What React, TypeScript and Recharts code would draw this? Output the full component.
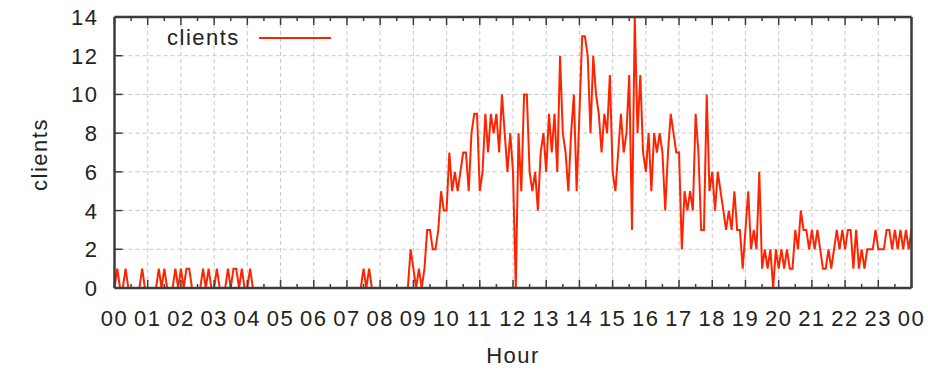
import { LineChart, Line, XAxis, YAxis, CartesianGrid, Legend } from "recharts";

const FONT = "'Liberation Sans', Arial, Helvetica, sans-serif";
const LINE_RED = "#ff2400";
const FRAME = "#3c3c3c";

const hourLabels = [
  "00", "01", "02", "03", "04", "05", "06", "07", "08", "09", "10", "11",
  "12", "13", "14", "15", "16", "17", "18", "19", "20", "21", "22", "23", "00",
];
const yTicks = [0, 2, 4, 6, 8, 10, 12, 14];

// clients, one sample every 5 minutes (12 per row = 1 hour)
const clientsNight = [
  0, 1, 0, 0, 1, 0, 0, 0, 0, 0, 1, 0, // 00
  0, 0, 0, 0, 1, 0, 1, 0, 0, 0, 1, 0, // 01
  1, 0, 1, 1, 0, 0, 0, 0, 1, 0, 1, 0, // 02
  0, 1, 0, 0, 0, 1, 0, 1, 1, 0, 1, 0, // 03
  0, 1, 0, 0, 0, 0, 0, 0, 0, 0, 0, 0, // 04
  0, 0, 0, 0, 0, 0, 0, 0, 0, 0, 0, 0, // 05
  0, 0, 0, 0, 0, 0, 0, 0, 0, 0, 0, 0, // 06
  0, 0, 0, 0, 0, 0, 1, 0, 1, 0, 0, 0, // 07
  0, 0, 0, 0, 0, 0, 0, 0, 0, 0, 0, 2, // 08
];
const clientsMorning = [
  1, 0, 1, 0, 1, 3, 3, 2, 2, 3, 5, 4, // 09
  4, 7, 5, 6, 5, 6, 7, 7, 5, 8, 9, 9, // 10
  5, 6, 9, 7, 9, 8, 9, 7, 10, 8, 6, 8, // 11
  6, 0, 8, 5, 10, 10, 6, 5, 6, 4, 7, 8, // 12
  6, 9, 7, 9, 6, 12, 8, 7, 5, 8, 10, 5, // 13
];
const clientsAfternoon = [
  9, 13, 13, 12, 8, 12, 10, 9, 7, 9, 8, 11, // 14
  6, 5, 7, 9, 7, 8, 11, 3, 14, 8, 11, 7, // 15
  6, 8, 5, 8, 7, 8, 7, 4, 7, 9, 8, 7, // 16
  7, 2, 5, 4, 5, 4, 9, 7, 3, 3, 10, 5, // 17
  6, 4, 6, 5, 4, 3, 4, 3, 5, 3, 3, 1, // 18
];
const clientsEvening = [
  3, 5, 2, 3, 2, 6, 1, 2, 1, 2, 0, 2, // 19
  1, 2, 1, 2, 1, 1, 3, 2, 4, 3, 3, 2, // 20
  3, 2, 3, 2, 1, 1, 2, 1, 2, 3, 2, 3, // 21
  2, 3, 3, 1, 3, 1, 2, 1, 2, 2, 2, 3, // 22
  2, 2, 2, 3, 3, 2, 3, 2, 3, 2, 3, 2, // 23
  3, // 24:00
];

const samples = [...clientsNight, ...clientsMorning, ...clientsAfternoon, ...clientsEvening];
const data = samples.map((clients, i) => ({ hour: i / 12, clients }));

const hourTicks = hourLabels.map((_, i) => i);
const halfHourTicks = hourTicks.flatMap((h) => (h < 24 ? [h, h + 0.5] : [h]));

const textStyle = { fontFamily: FONT, fontSize: 22, letterSpacing: 1.5, fill: "#222" };

const BottomTick = ({ x, y, payload }: any) => {
  const major = Number.isInteger(payload.value);
  return (
    <g>
      <path d={`M${x},${y} V${y - (major ? 8 : 4)}`} stroke={FRAME} strokeWidth={1.5} fill="none" />
      {major && (
        <text x={x} y={y + 38} textAnchor="middle" style={textStyle}>
          {hourLabels[payload.value]}
        </text>
      )}
    </g>
  );
};

const TopTick = ({ x, y, payload }: any) => {
  const major = Number.isInteger(payload.value);
  return (
    <g>
      <path d={`M${x},${y} V${y + (major ? 8 : 4)}`} stroke={FRAME} strokeWidth={1.5} fill="none" />
    </g>
  );
};

const LeftTick = ({ x, y, payload }: any) => (
  <g>
    <path d={`M${x},${y} H${x + 8}`} stroke={FRAME} strokeWidth={1.5} fill="none" />
    <text x={x - 16} y={y + 8} textAnchor="end" style={textStyle}>
      {payload.value}
    </text>
  </g>
);

const RightTick = ({ x, y }: any) => (
  <g>
    <path d={`M${x},${y} H${x - 8}`} stroke={FRAME} strokeWidth={1.5} fill="none" />
  </g>
);

const YTitle = ({ viewBox }: any) => {
  const cx = viewBox.x + 47;
  const cy = viewBox.y + viewBox.height / 2 + 2;
  return (
    <text x={cx} y={cy} textAnchor="middle" transform={`rotate(-90 ${cx} ${cy})`} style={textStyle}>
      clients
    </text>
  );
};

const XTitle = ({ viewBox }: any) => (
  <text x={viewBox.x + viewBox.width / 2} y={viewBox.y + 75} textAnchor="middle" style={textStyle}>
    Hour
  </text>
);

const LegendBox = () => (
  <div style={{ position: "relative", width: 400, height: 50 }}>
    <span
      style={{
        position: "absolute",
        left: 167,
        top: 27,
        fontFamily: FONT,
        fontSize: 22,
        letterSpacing: 1.5,
        lineHeight: "22px",
        color: "#222",
        whiteSpace: "nowrap",
      }}
    >
      clients
    </span>
    <div style={{ position: "absolute", left: 259, top: 37, width: 72, height: 1.5, background: LINE_RED }} />
  </div>
);

export default function App() {
  return (
    <div style={{ position: "absolute", left: 0, top: 0, width: 928, height: 370, background: "#fff" }}>
      <LineChart width={928} height={370} data={data} margin={{ top: 16, right: 15.5, bottom: 0, left: 0 }}>
        <CartesianGrid
          stroke="#c8c8c8"
          strokeDasharray="4 3"
          verticalValues={hourTicks.slice(1, -1)}
          horizontalValues={yTicks.slice(1, -1)}
        />
        <XAxis
          dataKey="hour"
          type="number"
          domain={[0, 24]}
          ticks={halfHourTicks}
          interval={0}
          height={82}
          tickSize={0}
          tickMargin={0}
          tickLine={false}
          stroke={FRAME}
          axisLine={{ stroke: FRAME, strokeWidth: 2.5 }}
          tick={<BottomTick />}
          label={<XTitle />}
        />
        <XAxis
          xAxisId="top"
          orientation="top"
          dataKey="hour"
          type="number"
          domain={[0, 24]}
          ticks={halfHourTicks}
          interval={0}
          height={1}
          tickSize={0}
          tickMargin={0}
          tickLine={false}
          stroke={FRAME}
          axisLine={{ stroke: FRAME, strokeWidth: 2.5 }}
          tick={<TopTick />}
        />
        <YAxis
          domain={[0, 14]}
          ticks={yTicks}
          interval={0}
          width={114.5}
          tickSize={0}
          tickMargin={0}
          tickLine={false}
          stroke={FRAME}
          axisLine={{ stroke: FRAME, strokeWidth: 2.5 }}
          tick={<LeftTick />}
          label={<YTitle />}
        />
        <YAxis
          yAxisId="right"
          orientation="right"
          domain={[0, 14]}
          ticks={yTicks}
          interval={0}
          width={1}
          tickSize={0}
          tickMargin={0}
          tickLine={false}
          stroke={FRAME}
          axisLine={{ stroke: FRAME, strokeWidth: 2.5 }}
          tick={<RightTick />}
        />
        <Legend
          layout="horizontal"
          align="center"
          verticalAlign="middle"
          wrapperStyle={{ left: 0, top: 0, width: 400, height: 50 }}
          content={<LegendBox />}
        />
        <Line
          type="linear"
          dataKey="clients"
          stroke={LINE_RED}
          strokeWidth={2}
          dot={false}
          activeDot={false}
          isAnimationActive={false}
        />
      </LineChart>
    </div>
  );
}
